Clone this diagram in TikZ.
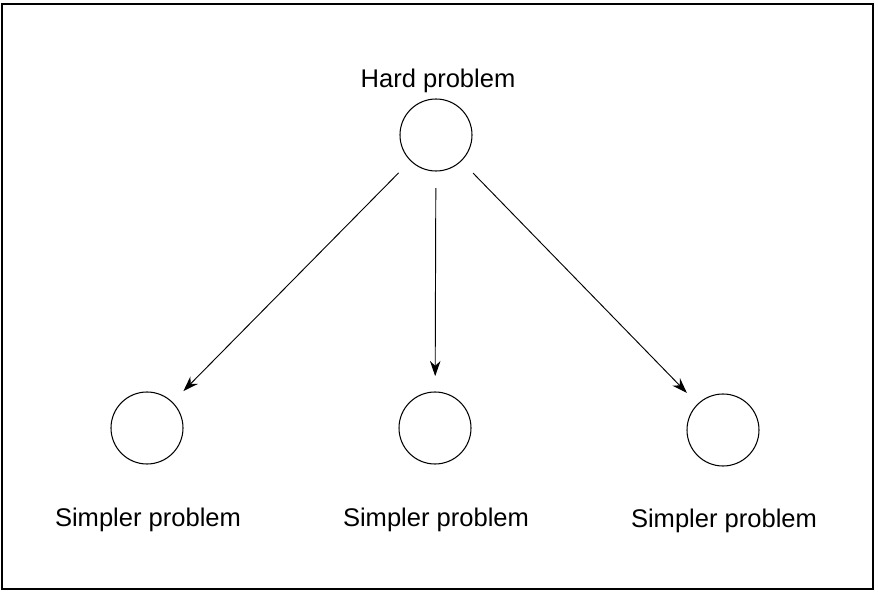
\documentclass[tikz,border=0pt]{standalone}
\usepackage{fontspec}
\setmainfont{Liberation Sans}
\usetikzlibrary{arrows.meta}

\tikzset{
  prob/.style={circle,draw,line width=0.9pt,minimum size=2.16cm,inner sep=0pt},
  lbl/.style={font=\fontsize{21.8}{26}\selectfont,inner sep=0pt},
  reduce/.style={-{Stealth[length=13pt,width=9pt]},line width=0.8pt,shorten <=0.5cm,shorten >=0.46cm}
}

\begin{document}
\begin{tikzpicture}
        \useasboundingbox (0,0) rectangle (26.34,17.94);
        \draw[line width=1.4pt] (0.06,0.27) rectangle (26.19,17.82);
        \node[prob] (H) at (13.08,13.89) {};
        \node[prob] (S1) at (4.41,5.10) {};
        \node[prob] (S2) at (13.05,5.10) {};
        \node[prob] (S3) at (21.69,5.04) {};
        \node[lbl] (Htext) at (13.14,15.51) {Hard problem};
        \node[lbl] (S1text) at (4.44,2.34) {Simpler problem};
        \node[lbl] (S2text) at (13.08,2.34) {Simpler problem};
        \node[lbl] (S3text) at (21.72,2.31) {Simpler problem};
        \draw[reduce] (H) -- (S1);
        \draw[reduce] (H) -- (S2);
        \draw[reduce] (H) -- (S3);
    \end{tikzpicture}
\end{document}
